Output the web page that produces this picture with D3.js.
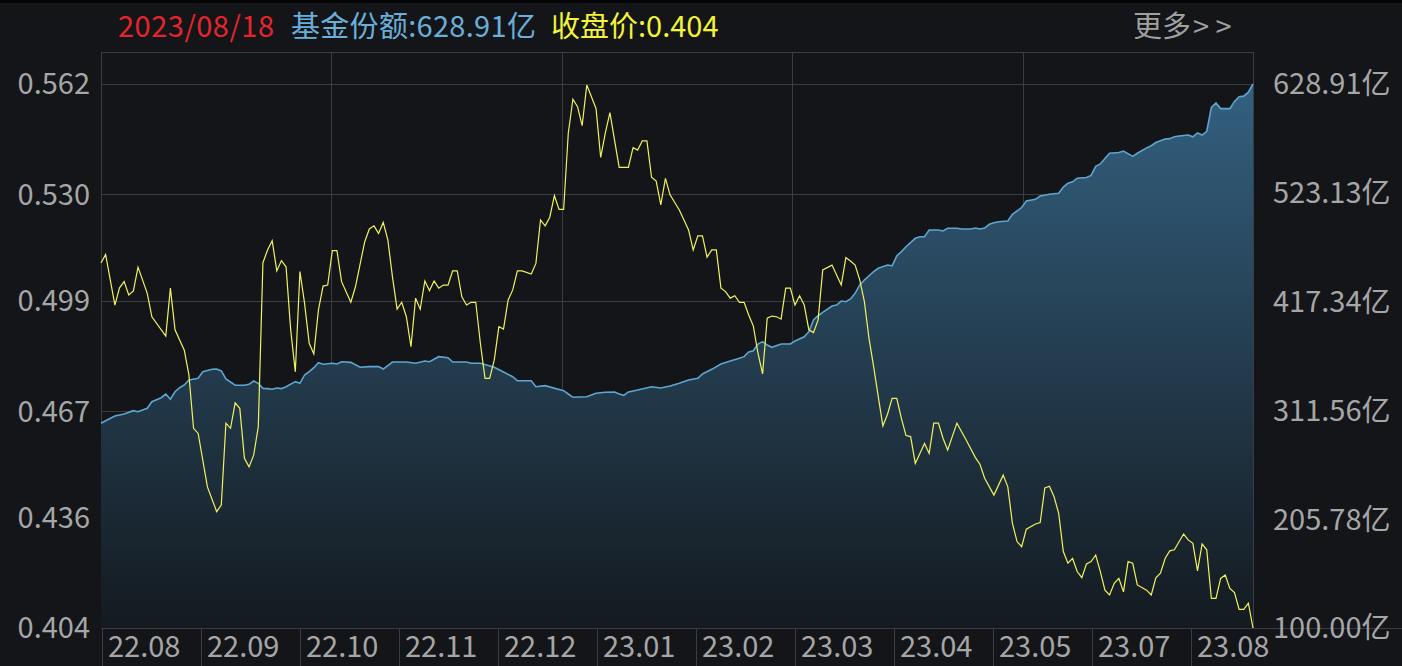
<!DOCTYPE html>
<html><head><meta charset="utf-8">
<script src="https://cdn.jsdelivr.net/npm/d3@7"></script>
<style>html,body{margin:0;padding:0;background:#131519;overflow:hidden}</style>
</head><body><svg id="c" width="1402" height="666"></svg>
<script>
// closing price: [trading-day index, price]
const priceSeries = [[0,0.5100],[1,0.5125],[3,0.4978],[4,0.5028],[5,0.5046],[6,0.5007],[7,0.5019],[8,0.5088],[10,0.5012],[11,0.4944],[14,0.4888],[15,0.5027],[16,0.4906],[18,0.4847],[19,0.4775],[20,0.4620],[21,0.4605],[23,0.4450],[25,0.4378],[26,0.4397],[27,0.4635],[28,0.4620],[29,0.4694],[30,0.4678],[31,0.4533],[32,0.4508],[33,0.4542],[34,0.4625],[35,0.5101],[36,0.5138],[37,0.5165],[38,0.5077],[39,0.5107],[40,0.5089],[41,0.4906],[42,0.4784],[43,0.5075],[44,0.4983],[45,0.4867],[46,0.4836],[47,0.4964],[48,0.5033],[49,0.5036],[50,0.5136],[51,0.5136],[52,0.5046],[54,0.4986],[55,0.5031],[57,0.5162],[58,0.5199],[59,0.5208],[60,0.5186],[61,0.5218],[62,0.5167],[63,0.5060],[64,0.4966],[65,0.4986],[66,0.4944],[67,0.4857],[68,0.4998],[69,0.4966],[70,0.5048],[71,0.5020],[72,0.5048],[73,0.5027],[74,0.5036],[75,0.5036],[76,0.5077],[77,0.5077],[78,0.5002],[79,0.4978],[80,0.4986],[81,0.4986],[82,0.4867],[83,0.4765],[84,0.4765],[85,0.4818],[86,0.4915],[87,0.4908],[88,0.4993],[89,0.5022],[90,0.5077],[91,0.5077],[93,0.5068],[94,0.5099],[95,0.5225],[96,0.5208],[97,0.5233],[98,0.5296],[99,0.5256],[100,0.5256],[101,0.5477],[102,0.5576],[103,0.5554],[104,0.5499],[105,0.5617],[106,0.5583],[107,0.5549],[108,0.5407],[109,0.5477],[110,0.5537],[111,0.5457],[112,0.5378],[114,0.5378],[115,0.5435],[116,0.5428],[117,0.5455],[118,0.5455],[119,0.5349],[120,0.5338],[121,0.5269],[122,0.5346],[123,0.5298],[125,0.5254],[127,0.5196],[128,0.5138],[129,0.5179],[130,0.5179],[131,0.5117],[132,0.5138],[133,0.5138],[134,0.5027],[135,0.5017],[136,0.4998],[137,0.5005],[138,0.4986],[139,0.4986],[140,0.4949],[141,0.4917],[142,0.4838],[143,0.4778],[144,0.4940],[145,0.4946],[146,0.4944],[147,0.4937],[148,0.5027],[149,0.5027],[150,0.4978],[151,0.5005],[152,0.4978],[153,0.4906],[154,0.4898],[155,0.4935],[156,0.5080],[158,0.5094],[159,0.5065],[160,0.5036],[161,0.5116],[162,0.5106],[163,0.5094],[164,0.5051],[165,0.4988],[166,0.4881],[167,0.4799],[168,0.4712],[169,0.4627],[170,0.4661],[171,0.4707],[172,0.4707],[173,0.4649],[174,0.4599],[175,0.4596],[176,0.4518],[177,0.4547],[178,0.4576],[179,0.4547],[180,0.4635],[181,0.4635],[182,0.4591],[183,0.4557],[185,0.4635],[187,0.4586],[189,0.4535],[190,0.4515],[191,0.4475],[193,0.4426],[195,0.4484],[196,0.4450],[197,0.4344],[198,0.4291],[199,0.4276],[200,0.4327],[202,0.4342],[203,0.4346],[204,0.4447],[205,0.4452],[206,0.4421],[207,0.4373],[208,0.4262],[209,0.4228],[210,0.4242],[211,0.4204],[212,0.4186],[213,0.4226],[214,0.4233],[215,0.4252],[216,0.4204],[217,0.4150],[218,0.4136],[219,0.4170],[220,0.4184],[221,0.4145],[222,0.4233],[223,0.4228],[224,0.4165],[226,0.4150],[227,0.4136],[228,0.4186],[229,0.4199],[230,0.4242],[231,0.4264],[232,0.4267],[234,0.4313],[235,0.4296],[236,0.4286],[237,0.4206],[238,0.4284],[239,0.4267],[240,0.4126],[241,0.4126],[242,0.4184],[243,0.4194],[244,0.4155],[245,0.4143],[246,0.4094],[247,0.4094],[248,0.4112],[249,0.4040]];

// fund share (亿份): [trading-day index, share]
const shareSeries = [[0,299.0],[1,301.5],[3,306.1],[5,308.1],[7,311.3],[8,310.3],[10,313.6],[11,320.0],[13,323.9],[14,327.5],[15,322.4],[16,329.7],[17,333.6],[18,336.3],[19,341.1],[21,342.8],[22,349.2],[24,351.5],[25,351.8],[26,349.9],[27,342.1],[29,336.0],[31,336.0],[32,336.9],[33,340.1],[34,337.9],[35,333.0],[36,332.7],[37,332.1],[38,333.3],[39,332.7],[40,334.6],[42,339.5],[43,337.9],[44,346.0],[45,349.2],[46,353.1],[47,357.9],[48,356.4],[50,357.4],[51,356.7],[52,358.9],[54,358.3],[56,353.5],[58,354.1],[60,354.1],[61,351.8],[63,358.6],[66,358.6],[68,357.4],[70,359.6],[71,358.9],[73,363.8],[75,362.8],[76,358.6],[79,358.6],[80,357.4],[82,357.4],[85,353.5],[87,348.9],[89,344.3],[90,340.4],[93,340.4],[94,334.6],[96,335.6],[100,330.7],[101,327.5],[102,324.3],[105,324.9],[107,328.2],[109,329.2],[111,329.5],[112,327.5],[113,326.2],[114,329.5],[116,331.4],[119,334.6],[121,333.3],[123,335.3],[125,337.9],[127,341.1],[129,342.8],[130,347.0],[132,351.5],[134,356.7],[136,359.6],[138,362.2],[139,363.8],[140,368.3],[141,369.6],[142,376.1],[143,378.4],[144,375.1],[145,372.9],[147,376.1],[149,376.1],[150,379.0],[152,383.2],[153,388.1],[154,399.5],[155,403.6],[156,406.9],[158,413.1],[159,414.0],[160,417.9],[161,417.2],[162,419.9],[163,425.4],[164,433.5],[165,438.3],[166,442.5],[167,446.4],[168,449.7],[170,452.9],[171,452.2],[172,461.7],[173,465.9],[174,470.7],[176,478.9],[177,480.4],[178,480.4],[179,487.0],[181,487.0],[182,486.0],[183,488.6],[185,488.6],[186,487.9],[188,487.9],[189,488.9],[190,487.9],[191,488.9],[192,492.5],[193,494.1],[194,495.0],[196,495.7],[197,502.2],[199,508.8],[200,515.2],[202,516.8],[203,520.0],[205,521.7],[207,522.7],[208,528.7],[209,532.5],[210,533.8],[211,537.3],[213,538.0],[214,540.0],[215,548.8],[216,551.2],[217,556.4],[218,561.6],[220,562.3],[221,563.7],[223,558.5],[224,561.6],[226,566.8],[227,568.9],[228,572.0],[230,575.5],[231,575.8],[232,577.6],[233,578.3],[235,579.3],[236,577.6],[237,581.4],[238,579.3],[239,582.8],[240,606.1],[241,610.5],[242,605.0],[244,605.0],[245,612.0],[246,616.5],[247,617.1],[248,621.0],[249,628.91]];

const priceTicks = [0.404, 0.436, 0.467, 0.499, 0.530, 0.562];
const shareTicks = [100.00, 205.78, 311.56, 417.34, 523.13, 628.91];
const monthLabels = ["22.08","22.09","22.10","22.11","22.12","23.01","23.02","23.03","23.04","23.05","23.07","23.08"];
const headerDate = "2023/08/18";
const headerShare = "基金份额:628.91亿";
const headerClose = "收盘价:0.404";
const moreLabel = "更多";
const moreArrows = ["> ", ">"];

const W = 1402, H = 666;
const L = 101, R = 1253, T = 52, B = 628, yTop = 84;
const FONT = "'Noto Sans CJK SC','Noto Sans',sans-serif";
const GRID = "#3a3d43";

const svg = d3.select("#c");
svg.append("rect").attr("width", W).attr("height", H).attr("fill", "#131519");
svg.append("rect").attr("width", W).attr("height", 3).attr("fill", "#050505");

const nDays = d3.max(priceSeries, d => d[0]);
const x = d3.scaleLinear().domain([0, nDays]).range([L, R]);
const yP = d3.scaleLinear().domain([priceTicks[0], priceTicks[priceTicks.length-1]]).range([B, yTop]);
const yS = d3.scaleLinear().domain([shareTicks[0], shareTicks[shareTicks.length-1]]).range([B, yTop]);
const xl = d3.scaleBand().domain(monthLabels).range([L + 1, L + 1 + 99 * monthLabels.length]);

const defs = svg.append("defs");
const grad = defs.append("linearGradient").attr("id", "g").attr("gradientUnits", "userSpaceOnUse")
  .attr("x1", 0).attr("x2", 0).attr("y1", yTop).attr("y2", B);
grad.append("stop").attr("offset", 0).attr("stop-color", "#33607f");
grad.append("stop").attr("offset", 1).attr("stop-color", "#141a20");

// grid
const g = svg.append("g");
g.selectAll("line.h").data(priceTicks).join("line")
  .attr("x1", L).attr("x2", R).attr("y1", d => Math.round(yP(d)) + 0.5).attr("y2", d => Math.round(yP(d)) + 0.5)
  .attr("stroke", GRID).attr("stroke-width", 1);
g.append("line").attr("x1", L).attr("x2", R).attr("y1", T + 0.5).attr("y2", T + 0.5).attr("stroke", GRID);
const vx = d3.range(6).map(i => L + i * (R - L) / 5);
g.selectAll("line.v").data(vx).join("line")
  .attr("x1", d => Math.round(d) + 0.5).attr("x2", d => Math.round(d) + 0.5).attr("y1", T).attr("y2", B)
  .attr("stroke", GRID);

// area + share line
const area = d3.area().x(d => x(d[0])).y0(B).y1(d => yS(d[1]));
svg.append("path").datum(shareSeries).attr("d", area).attr("fill", "url(#g)");
const lineS = d3.line().x(d => x(d[0])).y(d => yS(d[1]));
svg.append("path").datum(shareSeries).attr("d", lineS).attr("fill", "none")
  .attr("stroke", "#5ea6cf").attr("stroke-width", 1.6);

// price line
const lineP = d3.line().x(d => x(d[0])).y(d => yP(d[1]));
svg.append("path").datum(priceSeries).attr("d", lineP).attr("fill", "none")
  .attr("stroke", "#f2f25e").attr("stroke-width", 1.2);

// x axis area
svg.append("line").attr("x1", L).attr("x2", W).attr("y1", B + 0.5).attr("y2", B + 0.5).attr("stroke", GRID);
svg.selectAll("line.sep").data(monthLabels).join("line")
  .attr("x1", d => Math.round(xl(d)) + 0.5).attr("x2", d => Math.round(xl(d)) + 0.5)
  .attr("y1", B).attr("y2", H).attr("stroke", GRID);
svg.selectAll("text.xl").data(monthLabels).join("text")
  .attr("x", d => xl(d) + 6).attr("y", 657)
  .attr("font-family", FONT).attr("font-size", 29).attr("fill", "#a6a6a6").text(d => d);

// left axis labels
svg.selectAll("text.yl").data(priceTicks).join("text")
  .attr("x", 90).attr("y", d => yP(d)).attr("dy", "0.36em").attr("text-anchor", "end")
  .attr("font-family", FONT).attr("font-size", 29).attr("fill", "#a6a6a6").text(d => d.toFixed(3));

// right axis labels
svg.selectAll("text.yr").data(shareTicks).join("text")
  .attr("x", 1273).attr("y", d => yS(d)).attr("dy", "0.36em")
  .attr("font-family", FONT).attr("font-size", 29).attr("fill", "#a6a6a6").text(d => d.toFixed(2) + "亿");

// header
const hdr = [
  {t: headerDate, x: 118, c: "#e5252c", ls: 0.5},
  {t: headerShare, x: 291, c: "#6aafd9", ls: 0.3},
  {t: headerClose, x: 551, c: "#f3f33a", ls: 0}
];
svg.selectAll("text.hd").data(hdr).join("text")
  .attr("x", d => d.x).attr("y", 37).attr("letter-spacing", d => d.ls)
  .attr("font-family", FONT).attr("font-size", 29).attr("fill", d => d.c).text(d => d.t);
const more = svg.append("text").attr("x", 1133).attr("y", 37)
  .attr("font-family", FONT).attr("font-size", 29).attr("fill", "#a0a0a0");
more.append("tspan").text(moreLabel);
more.append("tspan").attr("dx", 2).text(moreArrows.join(""));
</script>
</body></html>
